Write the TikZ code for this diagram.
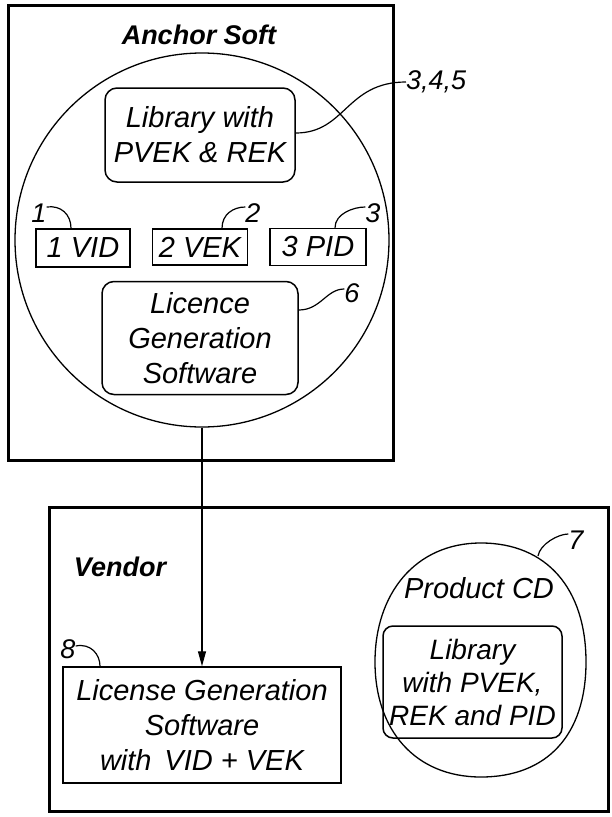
\documentclass[tikz,border=0pt]{standalone}
\usepackage{fontspec}
\setmainfont{Liberation Sans}
\usetikzlibrary{arrows.meta,shapes.geometric}
\begin{document}
\begin{tikzpicture}[x=1pt,y=-1pt,
  txt/.style={font=\fontsize{29}{35}\selectfont\itshape, align=center},
  ttl/.style={font=\fontsize{27}{32}\selectfont\bfseries\itshape, inner sep=0},
  num/.style={font=\fontsize{27}{32}\selectfont\itshape, inner sep=0},
  frame/.style={draw, line width=3pt, inner sep=0},
  rbox/.style={txt, draw, line width=1.5pt, rounded corners=12pt, inner sep=0},
  sbox/.style={txt, draw, line width=1.5pt, inner sep=0},
  lead/.style={line width=1.2pt},
  disc/.style={draw, line width=1.3pt, inner sep=0}
]
\useasboundingbox (0,0) rectangle (612,817);
% Anchor Soft
\node[frame, minimum width=385pt, minimum height=455pt] (anchor) at (200.5,232.5) {};
\node[ttl] (anchortitle) at (199,35) {Anchor Soft};
\node[disc, circle, minimum size=374pt] (circ) at (202,240) {};
\node[rbox, minimum width=190pt, minimum height=94pt] (lib) at (200,135) {Library with\\PVEK \& REK};
\node[num, anchor=west] (n345) at (406,82) {3,4,5};
\draw[lead] ([yshift=2pt]lib.east) .. controls +(50,0) and +(-60,0) .. (n345.west);
\node[sbox, minimum width=94pt, minimum height=38pt] (vid) at (83,248) {1 VID};
\node[sbox, minimum width=95pt, minimum height=36pt] (vek) at (200,247) {2 VEK};
\node[sbox, minimum width=96pt, minimum height=37pt] (pid) at (318,247) {3 PID};
\node[num] (n1) at (39,213) {1};
\node[num] (n2) at (253,213) {2};
\node[num] (n3) at (373,213) {3};
\draw[lead] ([yshift=6pt]n1.east) .. controls +(14,-2) and +(0,-14) .. ([xshift=-12pt]vid.north);
\draw[lead] ([xshift=22pt]vek.north) .. controls +(0,-14) and +(-12,0) .. ([yshift=6pt]n2.west);
\draw[lead] ([xshift=17pt]pid.north) .. controls +(0,-14) and +(-12,0) .. ([yshift=6pt]n3.west);
\node[rbox, minimum width=196pt, minimum height=113pt] (lgs) at (200,338) {Licence\\Generation\\Software};
\node[num] (n6) at (352,293) {6};
\draw[lead] ([yshift=28pt]lgs.east) .. controls +(22,0) and +(-18,0) .. ([yshift=4pt]n6.west);
% Vendor
\node[frame, minimum width=559pt, minimum height=304pt] (vendor) at (328.5,659) {};
\node[ttl] (vendortitle) at (120,567) {Vendor};
\node[sbox, minimum width=278pt, minimum height=116pt] (lic) at (202,725) {License Generation\\Software\\with\, VID + VEK};
\draw[line width=1.2pt, -{Triangle[length=15pt,width=8pt]}] (circ.south) -- (lic.north);
\node[num] (n8) at (68,649) {8};
\draw[lead] ([yshift=3pt]n8.east) .. controls +(15,-3) and +(0,-12) .. ([xshift=-102pt]lic.north);
% Product CD disc (slightly squarish hand-drawn circle)
\draw[line width=1.3pt] (586,662) .. controls (586,589) and (547,543) .. (481,543)
  .. controls (415,543) and (375,594) .. (375,662)
  .. controls (375,730) and (415,777) .. (481,777)
  .. controls (547,777) and (586,735) .. cycle;
\coordinate (cd7) at (538,556);
\node[txt, inner sep=0] (cdtitle) at (479,588) {Product CD};
\node[rbox, font=\fontsize{28}{33}\selectfont\itshape, minimum width=179pt, minimum height=112pt, rounded corners=10pt] (cdlib) at (472.5,682) {Library\\with PVEK,\\REK and PID};
\node[num] (n7) at (576,540) {7};
\draw[lead] (cd7) .. controls +(2,-12) and +(-10,0) .. ([yshift=6pt]n7.west);
\end{tikzpicture}
\end{document}
